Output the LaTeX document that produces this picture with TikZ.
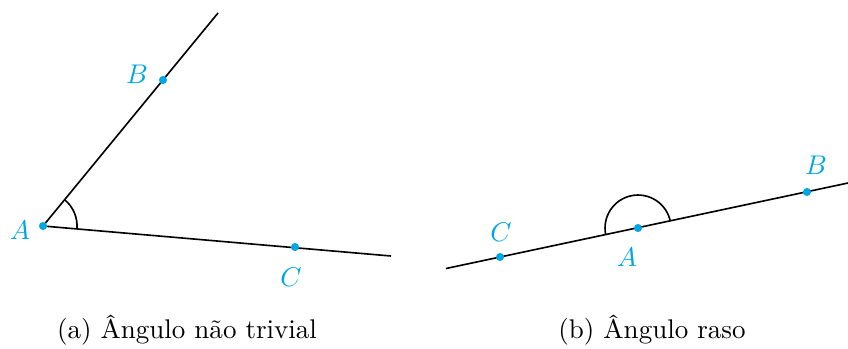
\documentclass[tikz,border=0pt]{standalone}
\usepackage{tikz}
\usetikzlibrary{calc,positioning,angles}
\definecolor{ponto}{RGB}{0,166,226}

\begin{document}
\begin{tikzpicture}[x=0.37pt,y=0.37pt,line width=0.6pt,
  pto/.style={circle,fill=ponto,inner sep=0pt,minimum size=3pt},
  rot/.style={text=ponto,font=\normalsize}]
\useasboundingbox (0,0) rectangle (848,348);
% (a) angulo nao trivial
\coordinate (A1) at (43,122);
\coordinate (B1) at (163,268);
\coordinate (C1) at (295,101);
\coordinate (fB1) at (218,335);
\coordinate (fC1) at (391,92);
\draw (fB1) -- (A1) -- (fC1);
\pic[draw,angle radius=12.6pt] {angle=C1--A1--B1};
\foreach \p in {A1,B1,C1} {\node[pto] at (\p) {};}
\node[rot] (lA1) at (20,118) {$A$};
\node[rot] (lB1) at (137,274) {$B$};
\node[rot] (lC1) at (291,71) {$C$};
\node (capa) at (187,18) {(a) Ângulo não trivial};
% (b) angulo raso
\coordinate (A2) at (638,120);
\coordinate (B2) at (807,156);
\coordinate (C2) at (500,91);
\coordinate (iL2) at (446,79.5);
\coordinate (fL2) at (848,165);
\draw (iL2) -- (fL2);
\pic[draw,angle radius=12.2pt] {angle=B2--A2--C2};
\foreach \p in {A2,B2,C2} {\node[pto] at (\p) {};}
\node[rot] (lA2) at (627,91) {$A$};
\node[rot] (lB2) at (816,183) {$B$};
\node[rot] (lC2) at (501,116) {$C$};
\node (capb) at (652,18) {(b) Ângulo raso};
\end{tikzpicture}
\end{document}
